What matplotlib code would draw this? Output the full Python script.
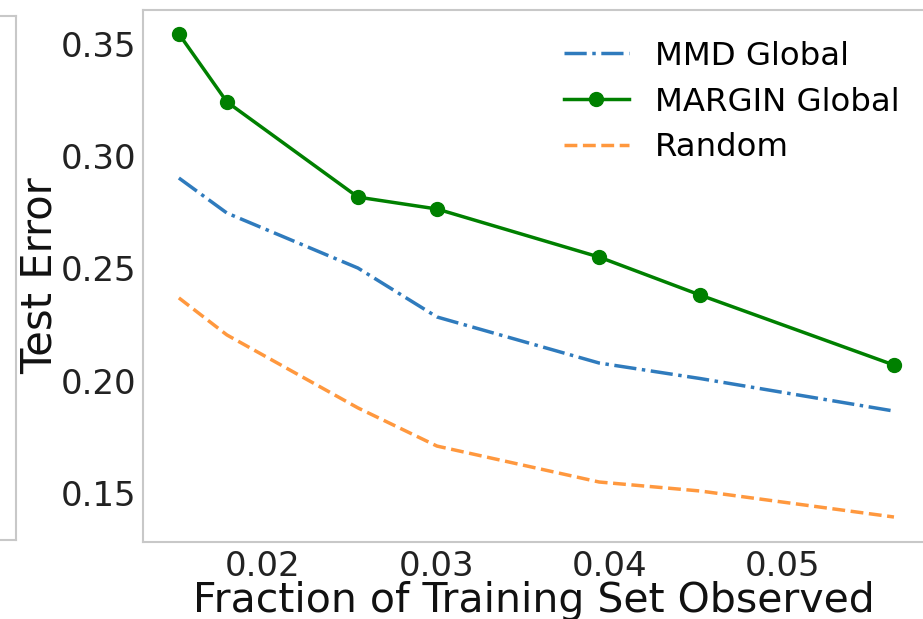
import matplotlib
matplotlib.use("Agg")
import matplotlib.pyplot as plt

frac = [0.01515, 0.01792, 0.02548, 0.03004, 0.03939, 0.04521, 0.05640]
mmd_global = [0.2903, 0.2747, 0.2502, 0.2284, 0.2079, 0.2010, 0.1865]
margin_global = [0.3545, 0.3242, 0.2818, 0.2765, 0.2551, 0.2382, 0.2070]
random_err = [0.2369, 0.2204, 0.1879, 0.1709, 0.1549, 0.1509, 0.1393]
xticks = [0.02, 0.03, 0.04, 0.05]
yticks = [0.15, 0.20, 0.25, 0.30, 0.35]

W, H = 923, 619
fig = plt.figure(figsize=(W / 100, H / 100), dpi=100)

# fragment of neighbouring panel at the left edge
axl = fig.add_axes([-0.2, 1 - 540 / H, 0.2 + 16 / W, (540 - 16) / H])
axl.set_xticks([]); axl.set_yticks([])
for s in axl.spines.values():
    s.set_color("#c8c8c8"); s.set_linewidth(1.5)

ax = fig.add_axes([143 / W, 1 - 542 / H, (925 - 143) / W, (542 - 10) / H])
ax.plot(frac, mmd_global, linestyle="-.", color="#2f7bbd", lw=2.5, label="MMD Global")
ax.plot(frac, margin_global, "-o", color="green", lw=2.5, ms=10, label="MARGIN Global")
ax.plot(frac, random_err, linestyle="--", color="#ff7f0e", lw=2.5, label="Random", alpha=0.8)

ax.set_xlim(0.01308, 0.05819)
ax.set_ylim(0.15 - (542 - 493) / 2245, 0.35 + (44 - 10) / 2245)
ax.set_xticks(xticks)
ax.set_xticklabels([f"{v:.2f}" for v in xticks])
ax.set_yticks(yticks)
ax.set_yticklabels([f"{v:.2f}" for v in yticks])
ax.tick_params(labelsize=24.5, length=0, colors="#222222")
ax.tick_params(axis="y", pad=5)
ax.tick_params(axis="x", pad=6)
for s in ax.spines.values():
    s.set_color("#c8c8c8"); s.set_linewidth(1.5)

ax.set_xlabel("Fraction of Training Set Observed", fontsize=29.5, labelpad=-2, color="#111111")
ax.set_ylabel("Test Error", fontsize=30, labelpad=0, color="#111111")

leg = ax.legend(loc="upper right", fontsize=23.3, frameon=False, handlelength=2.0,
                labelspacing=0.46, borderaxespad=0.3, bbox_to_anchor=(0.996, 0.985))

fig.savefig("out.png", dpi=100, facecolor="white")
